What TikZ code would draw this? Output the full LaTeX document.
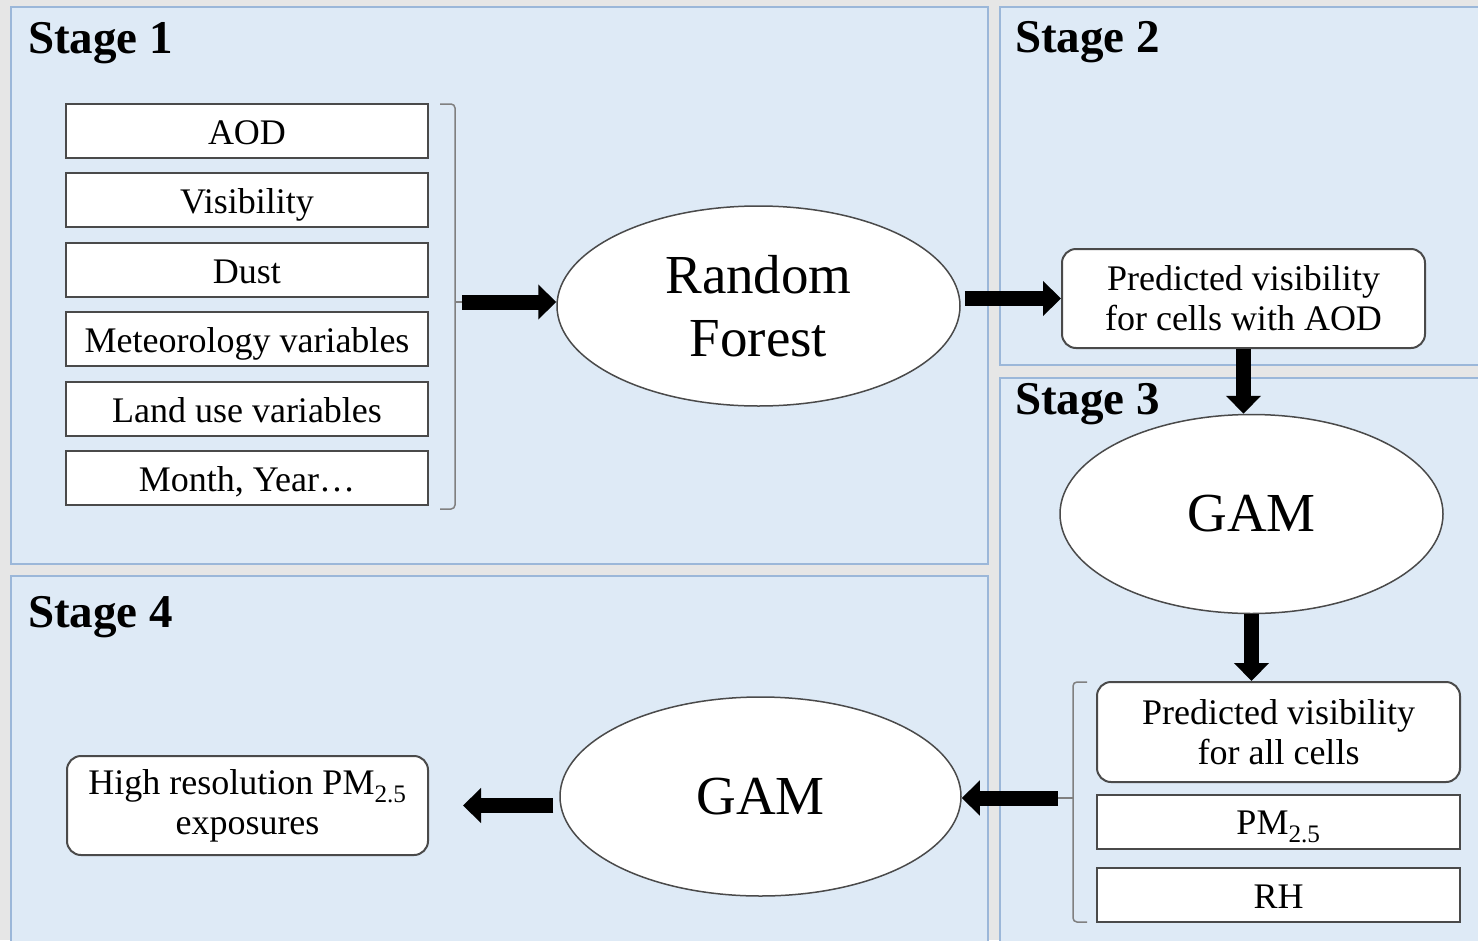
\documentclass[tikz,border=0pt]{standalone}
\usepackage{fontspec}
\setmainfont{Liberation Serif}
\usetikzlibrary{shapes.geometric,arrows.meta,calc}
\definecolor{bggray}{HTML}{E6E6E6}
\definecolor{panelfill}{HTML}{DEEAF6}
\definecolor{panelline}{HTML}{9BB7D9}
\definecolor{boxline}{HTML}{4A4A4A}
\definecolor{brkline}{HTML}{808080}
\tikzset{
  panel/.style={fill=panelfill,draw=panelline,line width=2pt},
  stagelabel/.style={anchor=base west,inner sep=0pt,font=\fontsize{47}{50}\selectfont\bfseries},
  boxbase/.style={rectangle,draw=boxline,fill=white,line width=2pt,minimum width=362pt,inner sep=0pt,font=\fontsize{36}{40}\selectfont},
  inbox/.style={boxbase,minimum height=54pt,text height=27pt,text depth=0pt},
  roundbox/.style={boxbase,rounded corners=14pt,minimum height=99pt,align=center},
  model/.style={ellipse,draw=boxline,fill=white,line width=1.5pt,inner sep=0pt,align=center,font=\fontsize{55}{63}\selectfont},
  bracketline/.style={draw=brkline,line width=1.5pt,rounded corners=4pt},
  bigarrow/.style={line width=15pt,black,-{Triangle[length=18pt,width=34pt]}}
}
\begin{document}
\begin{tikzpicture}[x=1pt,y=-1pt]
\useasboundingbox (0,0) rectangle (1478,940);
\fill[bggray] (0,0) rectangle (1478,940);
% panels
\draw[panel] (11,7) rectangle (988,564);
\draw[panel] (1000,7) rectangle (1495,365);
\draw[panel] (1000,378) rectangle (1495,955);
\draw[panel] (11,576) rectangle (988,955);
% stage labels
\node[stagelabel] (l1) at (28,53) {Stage 1};
\node[stagelabel] (l2) at (1015,52) {Stage 2};
\node[stagelabel] (l3) at (1015,414) {Stage 3};
\node[stagelabel] (l4) at (28,627) {Stage 4};
% stage 1 inputs
\node[inbox] (aod) at (247,130.5) {AOD};
\node[inbox] (vis) at (247,200) {Visibility};
\node[inbox] (dust) at (247,269.5) {Dust};
\node[inbox] (met) at (247,339) {Meteorology variables};
\node[inbox] (land) at (247,408.5) {Land use variables};
\node[inbox] (month) at (247,478) {Month, Year…};
% bracket 1
\draw[bracketline] (440,104) -- (455,104) -- (455,509) -- (440,509);
\coordinate (b1) at (462,302);
\draw[draw=brkline,line width=1.5pt] (455,302) -- (b1);
% random forest
\node[model,minimum width=403pt,minimum height=200pt] (rf) at (758.5,306) {Random\\Forest};
% stage 2
\node[roundbox,minimum width=363pt] (s2) at (1243.5,298.5) {Predicted visibility\\for cells with AOD};
% stage 3
\node[model,minimum width=383pt,minimum height=199pt] (g3) at (1251.5,514) {GAM};
\node[roundbox,minimum width=363pt,minimum height=100pt] (s3) at (1278.5,732) {Predicted visibility\\for all cells};
\node[inbox,minimum width=363pt,text height=25pt] (pm) at (1278.5,822) {PM\textsubscript{2.5}};
\node[inbox,minimum width=363pt] (rh) at (1278.5,895) {RH};
\draw[bracketline] (1087,682) -- (1073,682) -- (1073,922) -- (1087,922);
\coordinate (b3) at (1058,798);
\draw[draw=brkline,line width=1.5pt] (1073,798) -- (b3);
% stage 4
\node[model,minimum width=401pt,minimum height=199pt] (g4) at (760.5,796.5) {GAM};
\node[roundbox,minimum width=361pt] (hr) at (247.5,805.5) {High resolution PM\textsubscript{2.5}\\exposures};
% arrows
\draw[bigarrow] (b1) -- (b1 -| rf.west);
\draw[bigarrow] ($(rf.east |- s2.west)+(4,0)$) -- (s2.west);
\draw[bigarrow] (s2.south) -- (s2.south |- g3.north);
\draw[bigarrow] (g3.south) -- (g3.south |- s3.north);
\draw[bigarrow] (b3) -- (b3 -| g4.east);
\draw[bigarrow] ($(g4.west |- hr.east)+(-6,0)$) -- ($(hr.east)+(34,0)$);
\end{tikzpicture}
\end{document}
